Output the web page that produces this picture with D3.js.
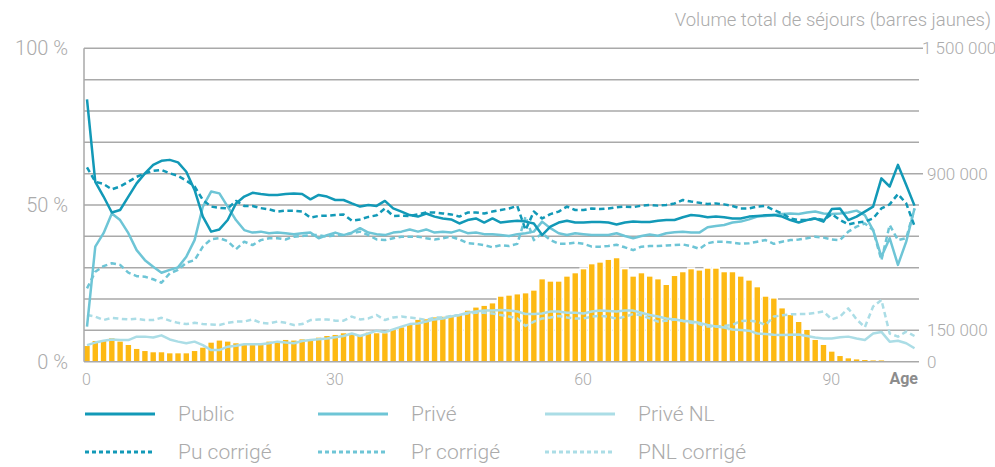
<!DOCTYPE html>
<html lang="fr">
<head>
<meta charset="UTF-8">
<title>Séjours par âge</title>
<script src="https://d3js.org/d3.v7.min.js"></script>
<style>
  body { margin: 0; background: #fff; }
  svg text { font-family: Roboto, "Open Sans", sans-serif; font-weight: 300; fill: #ababab; }
</style>
</head>
<body>
<svg width="995" height="467"></svg>
<script>
// ages 0..100 for the lines, bars stop at 97
const ages = d3.range(0, 101);

// parts in %
const publicPct = [83.7,57.4,52.7,47.6,48.4,52.7,56.9,60.1,62.8,64.1,
  64.4,63.6,60.6,54.8,46.3,41.5,42.2,45.2,50.5,52.7,
  53.9,53.5,53.2,53.2,53.5,53.7,53.5,51.8,53.2,52.7,
  51.6,51.6,50.5,49.5,50,49.7,51.3,48.9,47.9,46.8,
  46.3,47.3,46.3,45.7,45.4,44.1,45.2,45.7,44.4,45.7,
  44.4,44.7,45,44.7,44.1,40.4,43.1,44.4,45,44.4,
  44.4,44.6,44.6,44.4,43.8,44.4,44.7,44.6,44.6,45,
  45.2,45.2,46.1,46.8,46.6,46.1,46.3,46.1,45.7,45.7,
  46.3,46.5,46.7,46.8,46.3,45.2,44.4,45.2,45.7,44.7,
  48.7,48.9,45.2,46.3,47.9,49.5,58.5,55.9,62.8,56.4,49.8];

const puCorr = [62,57.4,56.7,55,55.9,57.4,59,60.1,60.9,61.2,
  60.1,59.3,57.8,55.9,51.6,49.5,49.1,48.9,51.3,49.7,
  49.7,49,48.6,47.9,48.2,48.2,47.9,46,46.5,46.6,
  46.8,47,45,45.4,46.2,46.7,48.9,46.5,46.6,46.5,
  47,47.6,47.6,47.3,47,46.3,47.6,47.6,47.3,47.9,
  48.4,48.9,49.7,42,47.9,45.7,47.1,47.9,49.5,48.4,
  48.4,48.9,48.7,48.9,49.3,49.5,49.3,49.8,50,49.8,
  50,50.5,51.6,51.1,50.7,50.3,50.5,50.2,49.7,48.9,
  48.9,49.5,49.7,48.4,47.3,45.7,45.2,45.2,45.7,45.2,
  47.1,45.2,43.8,44.4,44.7,45.7,48.9,50.2,53.5,50.5,43.3];

const privePct = [11.2,36.7,41,47.3,45.2,41,35.6,32.4,30.3,28.4,
  29.3,30.1,33.5,38.8,49.5,54.3,53.7,49.5,45.2,42,
  41.2,41.5,41,41.2,41,40.7,41,41.2,39.4,40.4,
  41.2,40.4,41.2,42.6,41.2,40.7,40.4,41.2,41.5,42.2,
  41.5,42.2,41.2,41.5,41.2,42,41,41.2,40.7,40.7,
  40.4,40.1,40.7,41,41.5,44.7,42.6,41,40.4,41,
  40.7,40.4,40.4,40.4,41,40.1,39.4,40.1,40.6,40.2,
  41,41.3,41.5,41.2,41.2,42.9,43.3,43.6,44.4,44.7,
  45.4,46.3,46.5,46.8,47.1,47.3,47.1,47.6,47.9,47.3,
  47.1,47.3,47.6,48.2,46.8,42,33.5,39.4,30.9,38.3,48.9];

const prCorr = [23.4,28.7,30.5,31.4,30.9,28.4,27.3,27.1,26.3,25.2,
  28.2,29.3,31.6,32.4,36.7,39.1,39.4,38.5,35.9,38.3,
  37.2,38.8,39.4,39.4,39,39.9,40.1,40.4,40.4,39.9,
  40.4,40.4,41,41.5,40.4,39,38.8,39.4,39.9,39.9,
  39.9,39.4,39,39.4,39.9,39,37.8,37.6,37.2,36.5,
  37.2,36.9,37.6,46.3,38.8,41,38.8,37.6,37.6,38,
  37.6,36.7,36.7,36.9,37.3,36.5,35.6,36.7,36.9,36.9,
  37.1,37.2,37.4,36.9,36,37.8,38.3,38.3,38,37.6,
  37.8,38.3,38.8,37.6,38.3,38.8,39,39.4,39.9,39.6,
  39,38.8,41.5,43.1,44.1,42,32.4,43.6,38.8,39.4,48.9];

const priveNLPct = [5.3,6.1,6.7,7.1,6.9,6.9,8,8,7.7,8.4,
  7.1,6.4,5.9,6.4,5.3,3.7,3.7,4.8,5.1,5.6,
  5.6,5.6,5.9,6.4,6.1,5.9,6.6,6.9,7.2,7.4,
  7.8,8.2,9,8.2,9,9.9,9.4,10.3,11.2,12,
  12.2,12.8,13.5,13.8,14.4,14.9,15.6,16,16.3,16.3,
  16.5,16.3,16,15.2,15.2,15.4,16,16,15.6,15.6,
  15.4,16,16.3,16.2,16,16.3,16.3,15.6,14.9,14.4,
  13.8,13.5,13.1,12.8,12.4,11.7,11.2,10.9,10.3,10.1,
  9.9,9,8.8,8.6,8.5,8.6,8.7,8.2,7.7,7.4,
  7.4,7.8,8,7.4,6.9,9,9.5,6.4,6.7,5.9,4.3];

const pnlCorr = [14.9,14.4,13.3,14,13.7,13.5,13.7,13.3,13.3,14,
  13.1,12.4,12,12.4,12,11.9,11.7,12.4,12.8,12.8,
  13.5,12.4,12.2,12.8,12.4,11.7,12,13.3,13.5,13.5,
  13.1,13.1,14.4,13.5,13.8,14.9,13.3,14.1,14.4,14.1,
  13.8,13.3,14.1,14.1,14.6,14.9,15.4,15.6,15.6,15.4,
  14.9,14.4,13.8,11.4,12.8,13.8,14.1,14.6,14.1,13.8,
  13.8,14.4,14.6,14.4,13.7,14.4,15.2,14.8,13.8,12.8,
  13.1,13.5,13,12.4,12,11.2,11.2,11.4,11.7,13,
  13.1,12.8,11.7,14.4,14.8,15.1,15.2,15.2,15.6,16,
  13.5,14.4,17,13.5,11,17.6,19.7,9,8,9.6,8.2];

// total stays (thousands), ages 0..97
const sejoursK = [75,99,99,112,96,80,61,51,45,45,
  40,40,40,51,67,91,101,96,88,83,
  80,80,96,96,104,101,107,104,115,123,
  128,136,136,128,139,136,136,155,164,180,
  200,203,212,215,220,228,244,259,267,279,
  311,316,322,327,340,394,383,383,407,423,
  442,466,474,487,495,442,407,423,407,394,
  367,410,428,442,436,445,445,428,428,407,
  388,356,311,302,255,223,190,152,104,80,
  48,27,16,11,8,6,6,3];

const legendLabels = ["Public", "Privé", "Privé NL", "Pu corrigé", "Pr corrigé", "PNL corrigé"];
const xTicks = [0, 30, 60, 90];
const pctTicks = [0, 50, 100];
const volTicks = [0, 150000, 900000, 1500000];

const svg = d3.select("svg");
const plotL = 84, plotR = 919, plotT = 48.3, plotB = 361.7;

const x = d3.scaleLinear().domain([0, 100]).range([87, 914.5]);
const yPct = d3.scaleLinear().domain([0, 100]).range([plotB, plotT]);
const yVol = d3.scaleLinear().domain([0, 1500000]).range([plotB, plotT]);
const step = x(1) - x(0);

const fr = d3.formatLocale({decimal: ",", thousands: " ", grouping: [3], currency: ["", ""]});

// grid every 10 %
svg.append("g").selectAll("line")
  .data(d3.range(10, 101, 10))
  .join("line")
  .attr("x1", plotL).attr("x2", d => (d === 100 || d === 60) ? plotR + 4 : plotR)
  .attr("y1", d => yPct(d)).attr("y2", d => yPct(d))
  .attr("stroke", "#a9a9a9").attr("stroke-width", 1.5);

// bars: white backing first so the grid is hidden around them
const bars = svg.append("g");
bars.selectAll("rect.bg")
  .data(sejoursK)
  .join("rect")
  .attr("class", "bg")
  .attr("x", (d, i) => x(i) - step / 2)
  .attr("width", step)
  .attr("y", d => yVol(d * 1000) - 2)
  .attr("height", d => plotB - yVol(d * 1000) + 2)
  .attr("fill", "#fff");
bars.selectAll("rect.bar")
  .data(sejoursK)
  .join("rect")
  .attr("class", "bar")
  .attr("x", (d, i) => x(i) - 2.7)
  .attr("width", 5.4)
  .attr("y", d => yVol(d * 1000))
  .attr("height", d => plotB - yVol(d * 1000))
  .attr("fill", "#fdb913");

// axis frame
svg.append("line").attr("x1", plotL).attr("x2", plotL).attr("y1", plotT).attr("y2", plotB)
  .attr("stroke", "#a9a9a9").attr("stroke-width", 1.5);
svg.append("line").attr("x1", plotL).attr("x2", plotR).attr("y1", plotB).attr("y2", plotB)
  .attr("stroke", "#a9a9a9").attr("stroke-width", 1.5);

// lines
const series = [
  {vals: pnlCorr, color: "#abdde6", dash: "5.5,3.5"},
  {vals: priveNLPct, color: "#abdde6", dash: null},
  {vals: prCorr, color: "#6ec5d6", dash: "5.5,3.5"},
  {vals: privePct, color: "#6ec5d6", dash: null},
  {vals: puCorr, color: "#1299b7", dash: "5.5,3.5"},
  {vals: publicPct, color: "#1299b7", dash: null}
];
const line = d3.line().x((d, i) => x(ages[i])).y(d => yPct(d));
svg.append("g").selectAll("path")
  .data(series)
  .join("path")
  .attr("d", d => line(d.vals))
  .attr("fill", "none")
  .attr("stroke", d => d.color)
  .attr("stroke-width", 2.5)
  .attr("stroke-linejoin", "round")
  .attr("stroke-dasharray", d => d.dash);

// left axis
const axL = svg.append("g").attr("transform", `translate(${plotL},0)`)
  .call(d3.axisLeft(yPct).tickValues(pctTicks).tickSize(0).tickPadding(16).tickFormat(d => d + " %"));
axL.select(".domain").remove();
axL.selectAll("text").attr("font-size", 20).attr("fill", "#ababab")
  .attr("font-family", "Roboto, sans-serif").attr("font-weight", 300);

// right axis
const axR = svg.append("g").attr("transform", `translate(${plotR},0)`)
  .call(d3.axisRight(yVol).tickValues(volTicks).tickSize(0).tickPadding(8).tickFormat(fr.format(",")));
axR.select(".domain").remove();
axR.selectAll("text").attr("font-size", 17).attr("fill", "#ababab")
  .attr("font-family", "Roboto, sans-serif").attr("font-weight", 300)
  .attr("x", d => d === 1500000 ? 3 : 8);

// bottom axis
const axB = svg.append("g").attr("transform", `translate(0,${plotB})`)
  .call(d3.axisBottom(x).tickValues(xTicks).tickSize(0).tickPadding(12).tickFormat(d3.format("d")));
axB.select(".domain").remove();
axB.selectAll("text").attr("font-size", 16).attr("fill", "#ababab")
  .attr("font-family", "Roboto, sans-serif").attr("font-weight", 300)
  .attr("dx", -1);

svg.append("text").attr("x", 918).attr("y", 384).attr("text-anchor", "end")
  .attr("font-size", 16).style("font-weight", 700).style("fill", "#8c8c8c").text("Age");

svg.append("text").attr("x", 991).attr("y", 26).attr("text-anchor", "end")
  .attr("font-size", 18.5).text("Volume total de séjours (barres jaunes)");

// legend
const lg = svg.append("g");
const legendItems = legendLabels.map((t, i) => ({label: t, s: series[[5, 3, 1, 4, 2, 0][i]], col: i % 3, row: Math.floor(i / 3)}));
const colX = [85, 318, 545];
const rowY = [414, 452];
const item = lg.selectAll("g").data(legendItems).join("g")
  .attr("transform", d => `translate(${colX[d.col]},${rowY[d.row]})`);
item.append("line").attr("x1", 0).attr("x2", 70).attr("y1", 0).attr("y2", 0)
  .attr("stroke", d => d.s.color).attr("stroke-width", 2.8)
  .attr("stroke-dasharray", d => d.s.dash ? "4,3" : null);
item.append("text").attr("x", 93).attr("y", 7).attr("font-size", 21).text(d => d.label);
</script>
</body>
</html>
